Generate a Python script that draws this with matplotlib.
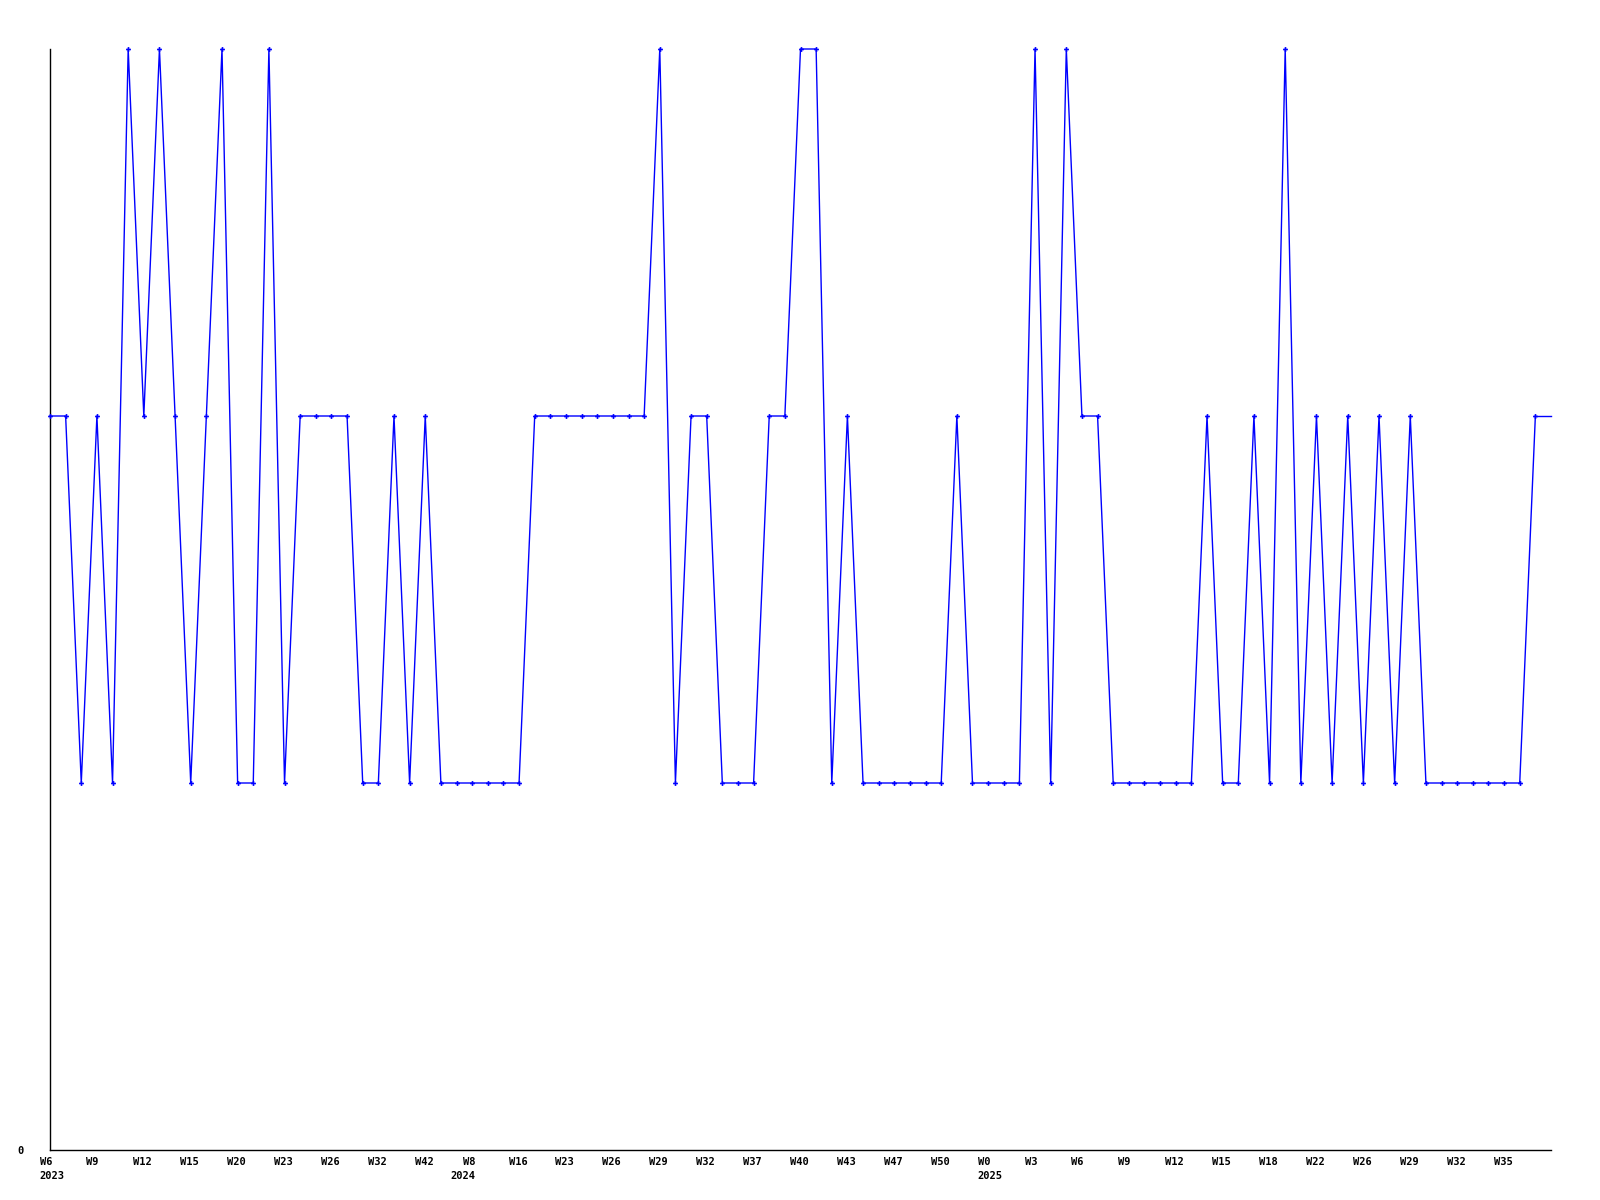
import matplotlib
matplotlib.use("Agg")
import matplotlib.pyplot as plt
import matplotlib.transforms as mtransforms
import numpy as np

# weekly values, one per point
values = [2, 2, 1, 2, 1, 3, 2, 3, 2, 1,
          2, 3, 1, 1, 3, 1, 2, 2, 2, 2,
          1, 1, 2, 1, 2, 1, 1, 1, 1, 1,
          1, 2, 2, 2, 2, 2, 2, 2, 2, 3,
          1, 2, 2, 1, 1, 1, 2, 2, 3, 3,
          1, 2, 1, 1, 1, 1, 1, 1, 2, 1,
          1, 1, 1, 3, 1, 3, 2, 2, 1, 1,
          1, 1, 1, 1, 2, 1, 1, 2, 1, 3,
          1, 2, 1, 2, 1, 2, 1, 2, 1, 1,
          1, 1, 1, 1, 1, 2]

# one label every third point
week_labels = ["W6", "W9", "W12", "W15", "W20", "W23", "W26", "W32", "W42",
               "W8", "W16", "W23", "W26", "W29", "W32", "W37", "W40", "W43",
               "W47", "W50", "W0", "W3", "W6", "W9", "W12", "W15", "W18",
               "W22", "W26", "W29", "W32", "W35"]
year_labels = {0: "2023", 9: "2024", 20: "2025"}

x = np.arange(len(values))
n = len(values)

fig = plt.figure(figsize=(16, 12), dpi=100)
ax = fig.add_axes([50 / 1600, 50 / 1200, 1501 / 1600, 1101 / 1200])

blue = "#0000ff"
ax.plot(x, values, color=blue, lw=1.0, marker="P", ms=3.5, mew=0,
        clip_on=False, zorder=3)
# line runs on to the right edge at the last value
ax.plot([x[-1], n], [values[-1], values[-1]], color=blue, lw=1.0,
        clip_on=False, zorder=3)

ax.set_xlim(0, n)
ax.set_ylim(0, 3)

for s in ["top", "right"]:
    ax.spines[s].set_visible(False)
for s in ["left", "bottom"]:
    ax.spines[s].set_linewidth(1.0)
    ax.spines[s].set_color("black")

font = dict(family="DejaVu Sans Mono", weight="bold", size=7.5)

ax.set_yticks([0])
ax.set_yticklabels(["0"], **font)
ax.tick_params(axis="y", length=0, pad=19)

ticks = x[::3][:len(week_labels)]
labels = []
for k, w in enumerate(week_labels):
    if k in year_labels:
        labels.append(w + "\n" + year_labels[k])
    else:
        labels.append(w)
ax.set_xticks(ticks)
ax.set_xticklabels(labels, ha="left", multialignment="left",
                   linespacing=1.45, **font)
ax.tick_params(axis="x", length=0, pad=5)

shift = mtransforms.ScaledTranslation(-10.5 / 100, 0, fig.dpi_scale_trans)
shift_r = mtransforms.ScaledTranslation(3 / 100, 0, fig.dpi_scale_trans)
for k, lab in enumerate(ax.get_xticklabels()):
    if k == 9:
        # the 2024 label sits flush right under its week
        lab.set_ha("right")
        lab.set_multialignment("right")
        lab.set_transform(lab.get_transform() + shift_r)
    else:
        lab.set_transform(lab.get_transform() + shift)

fig.savefig("out.png", dpi=100, facecolor="white")
